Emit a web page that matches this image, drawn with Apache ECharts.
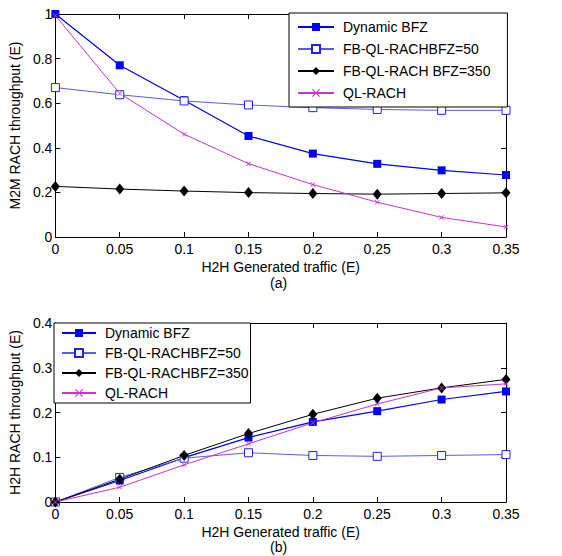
<!DOCTYPE html>
<html><head><meta charset="utf-8">
<script src="https://cdn.jsdelivr.net/npm/echarts@6/dist/echarts.min.js"></script>
<style>html,body{margin:0;padding:0;background:#fff}#c{width:562px;height:556px}</style>
</head><body><div id="c"></div>
<script>
// ---- data ----
const xValues = [0, 0.05, 0.1, 0.15, 0.2, 0.25, 0.3, 0.35];
const m2mDynamic = [1.0, 0.77, 0.613, 0.453, 0.374, 0.328, 0.299, 0.278];
const m2mFB50 = [0.67, 0.638, 0.61, 0.592, 0.58, 0.572, 0.568, 0.568];
const m2mFB350 = [0.227, 0.215, 0.206, 0.199, 0.195, 0.192, 0.195, 0.198];
const m2mQL = [0.993, 0.644, 0.461, 0.329, 0.235, 0.156, 0.088, 0.045];
const h2hDynamic = [0, 0.048, 0.099, 0.144, 0.179, 0.203, 0.229, 0.247];
const h2hFB50 = [0, 0.055, 0.098, 0.110, 0.104, 0.102, 0.104, 0.106];
const h2hFB350 = [0, 0.051, 0.104, 0.153, 0.196, 0.232, 0.255, 0.274];
const h2hQL = [0, 0.033, 0.083, 0.130, 0.177, 0.219, 0.255, 0.264];
const namesTop = ['Dynamic BFZ', 'FB-QL-RACHBFZ=50', 'FB-QL-RACH BFZ=350', 'QL-RACH'];
const namesBottom = ['Dynamic BFZ', 'FB-QL-RACHBFZ=50', 'FB-QL-RACHBFZ=350', 'QL-RACH'];
const xTitle = 'H2H Generated traffic (E)';
const yTitleTop = 'M2M RACH throughput (E)';
const yTitleBottom = 'H2H RACH throughput (E)';

const FONT = 'Liberation Sans, Arial, sans-serif';
const pairs = ys => xValues.map((x, i) => [x, ys[i]]);
const XMARK = 'path://M0,1L1,0L5,4L9,0L10,1L6,5L10,9L9,10L5,6L1,10L0,9L4,5Z';

function xAx(gi, pos, main) {
  return {
    type: 'value', gridIndex: gi, position: pos, min: 0, max: 0.35, interval: 0.05,
    axisLine: { show: true, onZero: false, lineStyle: { color: '#000', width: 1 } },
    axisTick: { show: true, inside: true, length: 5, lineStyle: { color: '#000' } },
    axisLabel: { show: main, color: '#000', fontSize: 14, margin: 5, fontFamily: FONT },
    splitLine: { show: false },
    name: main ? xTitle : '', nameLocation: 'middle', nameGap: 23,
    nameTextStyle: { color: '#000', fontSize: 14, fontFamily: FONT }
  };
}
function yAx(gi, pos, main, max, interval, title) {
  return {
    type: 'value', gridIndex: gi, position: pos, min: 0, max: max, interval: interval,
    axisLine: { show: true, onZero: false, lineStyle: { color: '#000', width: 1 } },
    axisTick: { show: true, inside: true, length: 5, lineStyle: { color: '#000' } },
    axisLabel: { show: main, color: '#000', fontSize: 14, margin: 3, fontFamily: FONT },
    splitLine: { show: false },
    name: main ? title : '', nameLocation: 'middle', nameGap: 27,
    nameTextStyle: { color: '#000', fontSize: 14, fontFamily: FONT }
  };
}
const styles = [
  { symbol: 'rect', symbolSize: 8, lineStyle: { color: '#0000ff', width: 1.2 }, itemStyle: { color: '#0000ff' } },
  { symbol: 'rect', symbolSize: 8, lineStyle: { color: '#5a5aff', width: 1 }, itemStyle: { color: '#ffffff', borderColor: '#2020ff', borderWidth: 1 } },
  { symbol: 'diamond', symbolSize: [9, 11], lineStyle: { color: '#000000', width: 1 }, itemStyle: { color: '#000000' } },
  { symbol: XMARK, symbolSize: 5, lineStyle: { color: '#cc33cc', width: 1 }, itemStyle: { color: '#cc33cc' } }
];
function mk(name, ys, k, gi) {
  return Object.assign({
    type: 'line', name: name, data: pairs(ys), xAxisIndex: gi * 2, yAxisIndex: gi * 2,
    showAllSymbol: true, animation: false, emphasis: { disabled: true }
  }, styles[k]);
}
const series = [
  mk(namesTop[0], m2mDynamic, 0, 0), mk(namesTop[1], m2mFB50, 1, 0),
  mk(namesTop[2], m2mFB350, 2, 0), mk(namesTop[3], m2mQL, 3, 0),
  mk(namesBottom[0], h2hDynamic, 0, 1), mk(namesBottom[1], h2hFB50, 1, 1),
  mk(namesBottom[2], h2hFB350, 2, 1), mk(namesBottom[3], h2hQL, 3, 1)
];
const legendCommon = {
  orient: 'vertical', backgroundColor: '#fff', borderColor: '#000', borderWidth: 1, borderRadius: 0,
  itemHeight: 10, selectedMode: false,
  textStyle: { color: '#000', fontSize: 14, fontFamily: FONT, padding: [0, 0, 0, 4] }
};
const chart = echarts.init(document.getElementById('c'), null, { renderer: 'svg' });
chart.setOption({
  animation: false,
  backgroundColor: '#fff',
  grid: [
    { left: 54, top: 14, width: 452, height: 223 },
    { left: 54, top: 323, width: 452, height: 179 }
  ],
  xAxis: [xAx(0, 'bottom', true), xAx(0, 'top', false), xAx(1, 'bottom', true), xAx(1, 'top', false)],
  yAxis: [yAx(0, 'left', true, 1, 0.2, yTitleTop), yAx(0, 'right', false, 1, 0.2, ''),
          yAx(1, 'left', true, 0.4, 0.1, yTitleBottom), yAx(1, 'right', false, 0.4, 0.1, '')],
  legend: [
    Object.assign({}, legendCommon, { data: namesTop, left: 289, top: 13, itemWidth: 36, itemGap: 8, padding: [7, 17, 7, 8] }),
    Object.assign({}, legendCommon, { data: namesBottom, left: 54, top: 323, itemWidth: 34, itemGap: 6, padding: [3, 2, 3, 7] })
  ],
  graphic: [
    { type: 'text', left: 270, top: 276, style: { text: '(a)', font: '14px ' + FONT, fill: '#000' } },
    { type: 'text', left: 270, top: 540, style: { text: '(b)', font: '14px ' + FONT, fill: '#000' } }
  ],
  series: series
});
</script>
</body></html>
